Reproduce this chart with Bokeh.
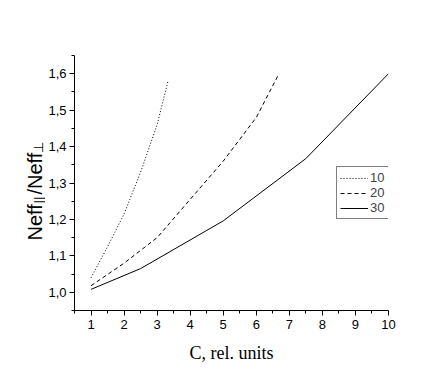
import numpy as np
from bokeh.plotting import figure
from bokeh.layouts import row
from bokeh.models import Range1d, FixedTicker, Legend, LegendItem, Label
from bokeh.embed import file_html
from bokeh.resources import INLINE

# ---- data ----
x10 = [1.0, 1.5, 2.0, 2.5, 3.0, 3.33]
y10 = [1.04, 1.125, 1.215, 1.33, 1.46, 1.58]

x20 = [1.0, 2.0, 3.0, 4.0, 5.0, 6.0, 6.67]
y20 = [1.018, 1.08, 1.15, 1.255, 1.36, 1.48, 1.597]

x30 = [1.0, 2.5, 5.0, 7.5, 10.0]
y30 = [1.008, 1.065, 1.196, 1.367, 1.60]

series_names = ["10", "20", "30"]

x_ticks = [1, 2, 3, 4, 5, 6, 7, 8, 9, 10]
x_minor = [0.5, 1.5, 2.5, 3.5, 4.5, 5.5, 6.5, 7.5, 8.5, 9.5]
y_ticks = [1.0, 1.1, 1.2, 1.3, 1.4, 1.5, 1.6]
y_tick_labels = ["1,0", "1,1", "1,2", "1,3", "1,4", "1,5", "1,6"]
y_minor = [0.95, 1.05, 1.15, 1.25, 1.35, 1.45, 1.55, 1.65]

x_title = "C, rel. units"
y_title_parts = ["Neff", "||", "/Neff", "\u22a5"]

H = 367
LW = 45          # width of the side strip that holds the y title
W = 439 - LW
TOP, BOTTOM = 55, 57

# ---- side strip with the y-axis title (subscripts need separate pieces) ----
# its coordinates are pixels measured from the bottom of the strip
side = figure(width=LW, height=H, output_backend="svg", toolbar_location=None,
              x_range=Range1d(0, LW), y_range=Range1d(BOTTOM, H - TOP),
              x_axis_type=None, y_axis_type=None,
              min_border_left=0, min_border_right=0,
              min_border_top=TOP, min_border_bottom=BOTTOM)
side.outline_line_color = None
side.grid.visible = False
side.scatter(x=[0], y=[BOTTOM], size=0, alpha=0)
big, small = "20px", "13px"
layout_parts = [(34.5, 127, big), (38, 164, small), (34.5, 173, big), (38, 215, small)]
for txt, (tx, ty, fs) in zip(y_title_parts, layout_parts):
    side.add_layout(Label(x=tx, y=ty, text=txt, angle=np.pi / 2,
                          text_font="Liberation Sans", text_font_size=fs,
                          text_align="left", text_baseline="alphabetic", text_color="black"))

# ---- main plot ----
p = figure(width=W, height=H, output_backend="svg", toolbar_location=None,
           x_range=Range1d(0.5, 10), y_range=Range1d(0.95, 1.65),
           min_border_left=27, min_border_right=51, min_border_top=TOP, min_border_bottom=BOTTOM)
p.outline_line_color = None
p.grid.visible = False
p.background_fill_color = "white"

r10 = p.line(x10, y10, line_color="black", line_width=1, line_dash="1 2")
r20 = p.line(x20, y20, line_color="black", line_width=1, line_dash="4 3")
r30 = p.line(x30, y30, line_color="black", line_width=1)

for ax in (p.xaxis[0], p.yaxis[0]):
    ax.axis_line_color = "black"
    ax.major_tick_line_color = "black"
    ax.minor_tick_line_color = "black"
    ax.major_tick_out = 5
    ax.major_tick_in = 0
    ax.minor_tick_out = 3
    ax.minor_tick_in = 0
    ax.major_label_text_font = "Liberation Sans"
    ax.major_label_text_font_size = "13px"
    ax.major_label_text_color = "black"
    ax.major_label_standoff = 4
p.yaxis.major_label_standoff = 3

p.xaxis.ticker = FixedTicker(ticks=x_ticks, minor_ticks=x_minor)
p.xaxis.major_label_overrides = {t: str(t) for t in x_ticks}
p.yaxis.ticker = FixedTicker(ticks=y_ticks, minor_ticks=y_minor)
p.yaxis.major_label_overrides = {t: l for t, l in zip(y_ticks, y_tick_labels)}

p.xaxis.axis_label = x_title
p.xaxis.axis_label_text_font = "Liberation Serif"
p.xaxis.axis_label_text_font_style = "normal"
p.xaxis.axis_label_text_font_size = "18px"
p.xaxis.axis_label_text_color = "black"
p.xaxis.axis_label_standoff = 11

legend = Legend(items=[LegendItem(label=series_names[0], renderers=[r10]),
                       LegendItem(label=series_names[1], renderers=[r20]),
                       LegendItem(label=series_names[2], renderers=[r30])],
                location=(262, 91))
legend.border_line_color = "black"
legend.border_line_width = 1
legend.background_fill_color = "white"
legend.background_fill_alpha = 1
legend.label_text_font = "Liberation Sans"
legend.label_text_font_size = "13px"
legend.label_standoff = 2
legend.glyph_width = 28
legend.glyph_height = 14
legend.label_height = 14
legend.spacing = 0
legend.padding = 3
legend.margin = 0
p.add_layout(legend)

layout = row(side, p)
open("out.html", "w").write(file_html(layout, INLINE))
